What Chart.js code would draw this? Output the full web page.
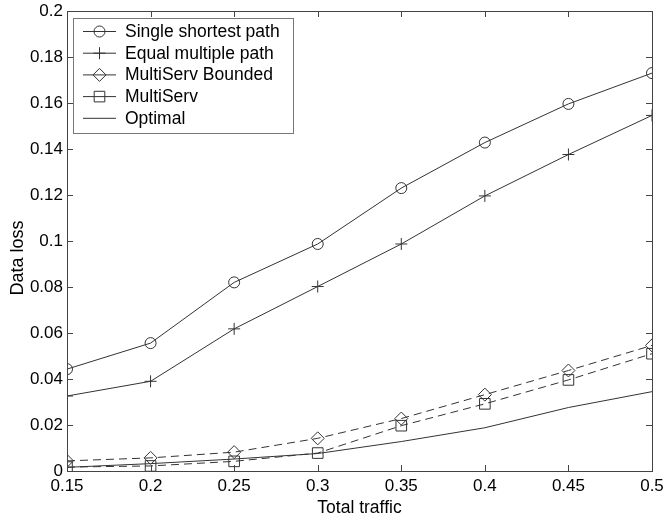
<!DOCTYPE html>
<html>
<head>
<meta charset="utf-8">
<script src="https://cdn.jsdelivr.net/npm/chart.js@4/dist/chart.umd.min.js"></script>
<style>
  body { margin: 0; background: #fff; }
  canvas { display: block; }
</style>
</head>
<body>
<canvas id="loss-chart" width="664" height="520"></canvas>
<script>
const traffic = [0.15, 0.2, 0.25, 0.3, 0.35, 0.4, 0.45, 0.5];
const singleShortest = [0.0443, 0.0556, 0.082, 0.0987, 0.123, 0.1428, 0.1596, 0.173];
const equalMultiple = [0.0326, 0.039, 0.0618, 0.0802, 0.0987, 0.1196, 0.1376, 0.1546];
const multiServBounded = [0.0044, 0.0057, 0.0082, 0.0142, 0.0228, 0.0332, 0.0437, 0.0546];
const multiServ = [0.0017, 0.0022, 0.0042, 0.0078, 0.0197, 0.0292, 0.0396, 0.051];
const optimal = [0.0016, 0.0032, 0.0052, 0.0076, 0.0128, 0.0188, 0.0276, 0.0345];
const xTicks = [0.15, 0.2, 0.25, 0.3, 0.35, 0.4, 0.45, 0.5];
const yTicks = [0, 0.02, 0.04, 0.06, 0.08, 0.1, 0.12, 0.14, 0.16, 0.18, 0.2];

const ink = "#333";
const font = "'Liberation Sans', Arial, sans-serif";

function series(label, values, marker, radius, dashed) {
    return {
        label: label,
        data: values.map((v, i) => ({ x: traffic[i], y: v })),
        borderColor: ink,
        borderWidth: 1,
        borderDash: dashed ? [8, 5] : [],
        pointStyle: marker || "circle",
        pointRadius: marker ? radius : 0,
        pointBorderColor: ink,
        pointBackgroundColor: "rgba(0,0,0,0)",
        pointBorderWidth: 1,
        tension: 0,
    };
}

// small marker painter for the legend
function marker(ctx, style, r, x, y) {
    ctx.beginPath();
    if (style === "circle") {
        ctx.arc(x, y, r, 0, Math.PI * 2);
    } else if (style === "cross") {
        ctx.moveTo(x - r, y); ctx.lineTo(x + r, y);
        ctx.moveTo(x, y - r); ctx.lineTo(x, y + r);
    } else if (style === "rectRot") {
        ctx.moveTo(x, y - r); ctx.lineTo(x + r, y);
        ctx.lineTo(x, y + r); ctx.lineTo(x - r, y); ctx.closePath();
    } else if (style === "rect") {
        const s = r * Math.SQRT1_2;
        ctx.rect(x - s, y - s, 2 * s, 2 * s);
    }
    ctx.stroke();
}

const frame = {
    id: "frame",
    afterDraw(chart) {
        const { ctx, chartArea: a, scales } = chart;
        ctx.save();
        ctx.strokeStyle = "#444";
        ctx.lineWidth = 1;
        ctx.strokeRect(a.left + 0.5, a.top + 0.5, a.right - a.left, a.bottom - a.top);
        ctx.beginPath();
        xTicks.forEach((v) => {
            const px = Math.round(scales.x.getPixelForValue(v)) + 0.5;
            ctx.moveTo(px, a.bottom); ctx.lineTo(px, a.bottom - 6);
            ctx.moveTo(px, a.top); ctx.lineTo(px, a.top + 6);
        });
        yTicks.forEach((v) => {
            const py = Math.round(scales.y.getPixelForValue(v)) + 0.5;
            ctx.moveTo(a.left, py); ctx.lineTo(a.left + 6, py);
            ctx.moveTo(a.right, py); ctx.lineTo(a.right - 6, py);
        });
        ctx.stroke();

        // y axis title, sits a little below the middle as in the original
        ctx.save();
        ctx.translate(18, 258);
        ctx.rotate(-Math.PI / 2);
        ctx.font = "18px " + font;
        ctx.fillStyle = "#000";
        ctx.textAlign = "center";
        ctx.textBaseline = "middle";
        ctx.fillText("Data loss", 0, 0);
        ctx.restore();

        // legend box
        const bx = 73, by = 18, bw = 220, bh = 115;
        ctx.fillStyle = "#fff";
        ctx.fillRect(bx, by, bw, bh);
        ctx.strokeStyle = "#777";
        ctx.strokeRect(bx + 0.5, by + 0.5, bw, bh);
        ctx.font = "17.5px " + font;
        ctx.textBaseline = "middle";
        chart.data.datasets.forEach((ds, i) => {
            const y = by + 13 + i * 21.7;
            ctx.strokeStyle = ink;
            ctx.beginPath();
            ctx.moveTo(83, y + 0.5); ctx.lineTo(116, y + 0.5);
            ctx.stroke();
            if (ds.pointRadius > 0) marker(ctx, ds.pointStyle, ds.pointRadius, 99.5, y + 0.5);
            ctx.fillStyle = "#000";
            ctx.fillText(ds.label, 125, y + 1);
        });
        ctx.restore();
    },
};

const fmt = (v) => String(parseFloat(Number(v).toFixed(2)));

new Chart(document.getElementById("loss-chart"), {
    type: "line",
    data: {
        datasets: [
            series("Single shortest path", singleShortest, "circle", 5.5),
            series("Equal multiple path", equalMultiple, "cross", 6),
            series("MultiServ Bounded", multiServBounded, "rectRot", 6.5, true),
            series("MultiServ", multiServ, "rect", 7.5, true),
            series("Optimal", optimal, null, 0),
        ],
    },
    options: {
        responsive: false,
        animation: false,
        devicePixelRatio: 1,
        layout: { padding: { top: 11, right: 12, left: 0, bottom: 0 } },
        plugins: { legend: { display: false }, tooltip: { enabled: false } },
        scales: {
            x: {
                type: "linear",
                min: 0.15,
                max: 0.5,
                afterBuildTicks: (s) => { s.ticks = xTicks.map((v) => ({ value: v })); },
                afterFit: (s) => { s.height = 49; s.paddingLeft = 0; s.paddingRight = 0; },
                grid: { display: false, drawTicks: false },
                border: { display: false },
                ticks: { callback: fmt, color: "#000", padding: 5, maxRotation: 0, font: { family: font, size: 17 } },
                title: { display: true, text: "Total traffic", color: "#000", padding: { top: 0, bottom: 1 }, font: { family: font, size: 17.5 } },
            },
            y: {
                min: 0,
                max: 0.2,
                afterBuildTicks: (s) => { s.ticks = yTicks.map((v) => ({ value: v })); },
                afterFit: (s) => { s.width = 67; s.paddingTop = 0; s.paddingBottom = 0; },
                grid: { display: false, drawTicks: false },
                border: { display: false },
                ticks: { callback: fmt, color: "#000", padding: 4, font: { family: font, size: 17 } },
            },
        },
    },
    plugins: [frame],
});
</script>
</body>
</html>
